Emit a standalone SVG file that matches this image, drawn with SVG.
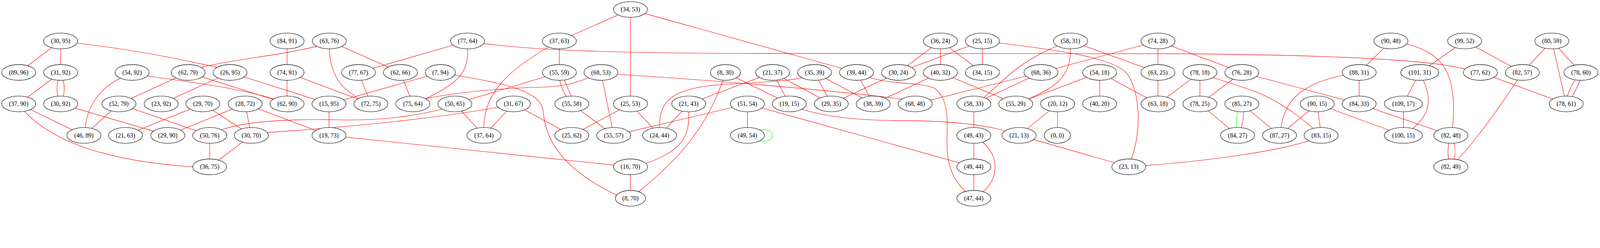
<svg xmlns="http://www.w3.org/2000/svg" width="4883" height="635" viewBox="0 0 4883 635" style="width:100vw;height:13.0043vw">
<style>
ellipse{fill:#fff;stroke:#000;stroke-width:1.33}
text{font-family:"Liberation Serif","Times New Roman",serif;font-size:18.67px;text-anchor:middle;fill:#000}
#edges path{fill:none;stroke:#ff0000;stroke-width:1.33}
#edges path.g{stroke:#00ff00}
#edges path.p{stroke:#a020f0}
</style>
<rect width="4883" height="635" fill="#fff"/>
<g id="edges">
<path d="M185,125L57,221"/>
<path d="M185,125L185,221"/>
<path d="M237,132C400,150 550,180 663,206"/>
<path d="M185,221L57,317"/>
<path d="M177,245C173,262 173,278 177,294"/>
<path d="M193,245C197,262 197,278 193,294"/>
<path d="M57,317L256,413"/>
<path d="M75,340C150,420 300,490 590,509"/>
<path d="M185,317L512,413"/>
<path d="M368,239C300,270 265,330 260,392"/>
<path d="M363,317L256,413"/>
<path d="M363,317L574,221"/>
<path d="M363,317L640,413"/>
<path d="M448,232C600,252 740,272 840,303"/>
<path d="M574,221L876,317"/>
<path d="M613,206C700,183 850,170 968,141"/>
<path d="M702,221L1004,317"/>
<path d="M702,221L492,317"/>
<path d="M619,317L383,413"/>
<path d="M619,317L767,413"/>
<path d="M748,317L512,413"/>
<path d="M748,317L767,413"/>
<path d="M748,317L1004,413"/>
<path d="M640,413L640,509"/>
<path d="M767,413L640,509"/>
<path d="M678,395C760,368 900,362 1050,366C1200,368 1300,345 1352,332"/>
<path d="M818,404Q1250,375 1522,327"/>
<path d="M1004,413L1924,509"/>
<path d="M1004,317L1004,413"/>
<path d="M1004,317L1344,221"/>
<path d="M876,125L876,221"/>
<path d="M876,221L876,317"/>
<path d="M876,221L1132,317"/>
<path d="M1005,149C1008,230 1040,270 1100,303"/>
<path d="M1005,125L1222,221"/>
<path d="M1094,221L1132,317"/>
<path d="M1094,221L1427,125"/>
<path d="M1427,149C1430,230 1390,255 1296,303"/>
<path d="M1477,133C1650,155 1900,162 2300,163L3600,164C4100,168 4380,185 4472,211"/>
<path d="M1388,229C1560,258 1650,280 1658,340C1664,430 1720,520 1892,600"/>
<path d="M1222,221L1260,317"/>
<path d="M1298,301C1400,280 1550,268 1650,266C1720,264 1760,252 1797,237"/>
<path d="M1388,317L1707,221"/>
<path d="M1388,317L1477,413"/>
<path d="M1567,317L1477,413"/>
<path d="M1673,144C1560,210 1475,280 1477,391"/>
<path d="M1567,317L1745,413"/>
<path d="M1924,29L1707,125"/>
<path d="M1924,29L1924,317"/>
<path d="M1924,29L2614,221"/>
<path d="M1707,125L1707,221"/>
<path d="M1708,244C1713,268 1720,283 1730,296"/>
<path d="M1722,244C1730,264 1738,280 1744,296"/>
<path d="M1834,221L1873,413"/>
<path d="M1887,227C2100,240 2500,270 2757,303"/>
<path d="M1745,317L1873,413"/>
<path d="M1924,317L1745,413"/>
<path d="M1924,317L2013,413"/>
<path d="M2281,317L1873,413"/>
<path d="M2013,391C2010,300 2060,270 2200,258C2330,250 2400,248 2449,237"/>
<path d="M1924,509L1924,605"/>
<path d="M2102,339C2105,420 2080,460 1970,499"/>
<path d="M2207,243C2160,380 2080,480 1946,587"/>
<path d="M2214,221L2409,317"/>
<path d="M2358,221L2102,317"/>
<path d="M2358,221L2409,317"/>
<path d="M2358,221L2537,317"/>
<path d="M2102,317L2013,413"/>
<path d="M2281,317L2281,413"/>
<path d="M2281,317L2972,509"/>
<path class="g" d="M2316,397C2340,392 2358,400 2358,413C2358,426 2340,434 2316,429"/>
<path d="M2486,221L2537,317"/>
<path d="M2486,221L2665,317"/>
<path d="M2614,221L2665,317"/>
<path d="M2653,236C2720,258 2800,250 2850,268C2900,300 2890,380 2890,440C2890,520 2920,560 2950,587"/>
<path d="M2742,221L2537,317"/>
<path d="M2870,125L2742,221"/>
<path d="M2998,125L2742,221"/>
<path d="M2870,221L2665,317"/>
<path d="M2445,333C2520,355 2600,367 2750,368C2900,368 3000,380 3072,400"/>
<path d="M2793,317L3177,221"/>
<path d="M2870,125L2870,221"/>
<path d="M2870,125L2998,221"/>
<path d="M2998,125L2998,221"/>
<path d="M3048,131C3250,155 3400,178 3440,225C3480,280 3485,400 3452,487"/>
<path d="M2870,221L3100,317"/>
<path d="M2972,317L2972,413"/>
<path d="M3227,140C3100,195 3070,240 3000,300"/>
<path d="M3177,221L2972,317"/>
<path d="M3534,125L3177,221"/>
<path d="M3267,147C3268,220 3240,260 3138,302"/>
<path d="M3356,221L3100,317"/>
<path class="p" d="M3228,317L3227,413"/>
<path d="M3228,317L3110,413"/>
<path d="M2972,413L2972,509"/>
<path d="M2998,433C3050,475 3050,545 2998,587"/>
<path d="M2972,509L2972,605"/>
<path d="M3110,413L3445,509"/>
<path d="M3267,125L3534,221"/>
<path d="M3534,125L3534,221"/>
<path d="M3534,125L3790,221"/>
<path d="M3356,221L3356,317"/>
<path d="M3356,221L3534,317"/>
<path d="M3534,221L3534,317"/>
<path d="M3662,221L3534,317"/>
<path d="M3495,505C3700,490 3900,460 3997,429"/>
<path d="M3662,221L3662,317"/>
<path d="M3700,236C3790,265 3830,278 3860,292C3920,320 3970,360 4010,393"/>
<path d="M3790,221L3662,317"/>
<path d="M3790,221L4148,317"/>
<path d="M3662,317L3777,413"/>
<path class="g" d="M3779,340C3774,358 3772,375 3773,391"/>
<path d="M3795,340C3796,360 3792,375 3788,391"/>
<path d="M3790,317L3905,413"/>
<path d="M4020,317L3905,413"/>
<path d="M4020,317L4032,413"/>
<path d="M4020,317L4283,413"/>
<path d="M4100,229C4000,250 3920,290 3910,391"/>
<path d="M4245,125L4148,221"/>
<path d="M4291,134C4400,160 4450,220 4433,391"/>
<path d="M4470,125L4333,221"/>
<path d="M4148,221L4148,317"/>
<path d="M4333,221L4283,317"/>
<path d="M4343,243C4370,300 4365,350 4311,392"/>
<path d="M4283,317L4283,413"/>
<path d="M4148,317L4428,413"/>
<path d="M4422,436C4418,455 4418,468 4421,486"/>
<path d="M4438,436C4442,455 4442,468 4438,486"/>
<path d="M4632,243C4580,320 4520,410 4446,490"/>
<path d="M4470,125L4646,221"/>
<path d="M4736,125L4646,221"/>
<path d="M4736,125L4780,317"/>
<path d="M4736,125L4825,221"/>
<path d="M4807,243C4797,260 4788,278 4782,296"/>
<path d="M4822,243C4815,265 4806,280 4797,296"/>
<path d="M4518,221L4780,317"/>
</g>
<g id="n34_53"><ellipse cx="1924" cy="29" rx="52" ry="24"/><text x="1924" y="35">(34, 53)</text></g>
<g id="n30_95"><ellipse cx="185" cy="125" rx="52" ry="24"/><text x="185" y="131">(30, 95)</text></g>
<g id="n84_91"><ellipse cx="876" cy="125" rx="52" ry="24"/><text x="876" y="131">(84, 91)</text></g>
<g id="n63_76"><ellipse cx="1005" cy="125" rx="52" ry="24"/><text x="1005" y="131">(63, 76)</text></g>
<g id="n77_64"><ellipse cx="1427" cy="125" rx="52" ry="24"/><text x="1427" y="131">(77, 64)</text></g>
<g id="n37_63"><ellipse cx="1707" cy="125" rx="52" ry="24"/><text x="1707" y="131">(37, 63)</text></g>
<g id="n36_24"><ellipse cx="2870" cy="125" rx="52" ry="24"/><text x="2870" y="131">(36, 24)</text></g>
<g id="n25_15"><ellipse cx="2998" cy="125" rx="52" ry="24"/><text x="2998" y="131">(25, 15)</text></g>
<g id="n58_31"><ellipse cx="3267" cy="125" rx="52" ry="24"/><text x="3267" y="131">(58, 31)</text></g>
<g id="n74_28"><ellipse cx="3534" cy="125" rx="52" ry="24"/><text x="3534" y="131">(74, 28)</text></g>
<g id="n90_48"><ellipse cx="4245" cy="125" rx="52" ry="24"/><text x="4245" y="131">(90, 48)</text></g>
<g id="n99_52"><ellipse cx="4470" cy="125" rx="52" ry="24"/><text x="4470" y="131">(99, 52)</text></g>
<g id="n80_59"><ellipse cx="4736" cy="125" rx="52" ry="24"/><text x="4736" y="131">(80, 59)</text></g>
<g id="n89_96"><ellipse cx="57" cy="221" rx="52" ry="24"/><text x="57" y="227">(89, 96)</text></g>
<g id="n31_92"><ellipse cx="185" cy="221" rx="52" ry="24"/><text x="185" y="227">(31, 92)</text></g>
<g id="n54_92"><ellipse cx="403" cy="221" rx="52" ry="24"/><text x="403" y="227">(54, 92)</text></g>
<g id="n62_79"><ellipse cx="574" cy="221" rx="52" ry="24"/><text x="574" y="227">(62, 79)</text></g>
<g id="n26_95"><ellipse cx="702" cy="221" rx="52" ry="24"/><text x="702" y="227">(26, 95)</text></g>
<g id="n74_91"><ellipse cx="876" cy="221" rx="52" ry="24"/><text x="876" y="227">(74, 91)</text></g>
<g id="n77_67"><ellipse cx="1094" cy="221" rx="52" ry="24"/><text x="1094" y="227">(77, 67)</text></g>
<g id="n62_66"><ellipse cx="1222" cy="221" rx="52" ry="24"/><text x="1222" y="227">(62, 66)</text></g>
<g id="n7_94"><ellipse cx="1344" cy="221" rx="46" ry="24"/><text x="1344" y="227">(7, 94)</text></g>
<g id="n55_59"><ellipse cx="1707" cy="221" rx="52" ry="24"/><text x="1707" y="227">(55, 59)</text></g>
<g id="n68_53"><ellipse cx="1834" cy="221" rx="52" ry="24"/><text x="1834" y="227">(68, 53)</text></g>
<g id="n8_30"><ellipse cx="2214" cy="221" rx="46" ry="24"/><text x="2214" y="227">(8, 30)</text></g>
<g id="n21_37"><ellipse cx="2358" cy="221" rx="52" ry="24"/><text x="2358" y="227">(21, 37)</text></g>
<g id="n35_39"><ellipse cx="2486" cy="221" rx="52" ry="24"/><text x="2486" y="227">(35, 39)</text></g>
<g id="n39_44"><ellipse cx="2614" cy="221" rx="52" ry="24"/><text x="2614" y="227">(39, 44)</text></g>
<g id="n30_24"><ellipse cx="2742" cy="221" rx="52" ry="24"/><text x="2742" y="227">(30, 24)</text></g>
<g id="n40_32"><ellipse cx="2870" cy="221" rx="52" ry="24"/><text x="2870" y="227">(40, 32)</text></g>
<g id="n34_15"><ellipse cx="2998" cy="221" rx="52" ry="24"/><text x="2998" y="227">(34, 15)</text></g>
<g id="n68_36"><ellipse cx="3177" cy="221" rx="52" ry="24"/><text x="3177" y="227">(68, 36)</text></g>
<g id="n54_18"><ellipse cx="3356" cy="221" rx="52" ry="24"/><text x="3356" y="227">(54, 18)</text></g>
<g id="n63_25"><ellipse cx="3534" cy="221" rx="52" ry="24"/><text x="3534" y="227">(63, 25)</text></g>
<g id="n78_18"><ellipse cx="3662" cy="221" rx="52" ry="24"/><text x="3662" y="227">(78, 18)</text></g>
<g id="n76_28"><ellipse cx="3790" cy="221" rx="52" ry="24"/><text x="3790" y="227">(76, 28)</text></g>
<g id="n88_31"><ellipse cx="4148" cy="221" rx="52" ry="24"/><text x="4148" y="227">(88, 31)</text></g>
<g id="n101_31"><ellipse cx="4333" cy="221" rx="58" ry="24"/><text x="4333" y="227">(101, 31)</text></g>
<g id="n77_62"><ellipse cx="4518" cy="221" rx="52" ry="24"/><text x="4518" y="227">(77, 62)</text></g>
<g id="n82_57"><ellipse cx="4646" cy="221" rx="52" ry="24"/><text x="4646" y="227">(82, 57)</text></g>
<g id="n78_60"><ellipse cx="4825" cy="221" rx="52" ry="24"/><text x="4825" y="227">(78, 60)</text></g>
<g id="n37_90"><ellipse cx="57" cy="317" rx="52" ry="24"/><text x="57" y="323">(37, 90)</text></g>
<g id="n30_92"><ellipse cx="185" cy="317" rx="52" ry="24"/><text x="185" y="323">(30, 92)</text></g>
<g id="n52_79"><ellipse cx="363" cy="317" rx="52" ry="24"/><text x="363" y="323">(52, 79)</text></g>
<g id="n23_92"><ellipse cx="492" cy="317" rx="52" ry="24"/><text x="492" y="323">(23, 92)</text></g>
<g id="n29_70"><ellipse cx="619" cy="317" rx="52" ry="24"/><text x="619" y="323">(29, 70)</text></g>
<g id="n28_72"><ellipse cx="748" cy="317" rx="52" ry="24"/><text x="748" y="323">(28, 72)</text></g>
<g id="n62_90"><ellipse cx="876" cy="317" rx="52" ry="24"/><text x="876" y="323">(62, 90)</text></g>
<g id="n15_95"><ellipse cx="1004" cy="317" rx="52" ry="24"/><text x="1004" y="323">(15, 95)</text></g>
<g id="n72_75"><ellipse cx="1132" cy="317" rx="52" ry="24"/><text x="1132" y="323">(72, 75)</text></g>
<g id="n75_64"><ellipse cx="1260" cy="317" rx="52" ry="24"/><text x="1260" y="323">(75, 64)</text></g>
<g id="n50_65"><ellipse cx="1388" cy="317" rx="52" ry="24"/><text x="1388" y="323">(50, 65)</text></g>
<g id="n31_67"><ellipse cx="1567" cy="317" rx="52" ry="24"/><text x="1567" y="323">(31, 67)</text></g>
<g id="n55_58"><ellipse cx="1745" cy="317" rx="52" ry="24"/><text x="1745" y="323">(55, 58)</text></g>
<g id="n25_53"><ellipse cx="1924" cy="317" rx="52" ry="24"/><text x="1924" y="323">(25, 53)</text></g>
<g id="n21_43"><ellipse cx="2102" cy="317" rx="52" ry="24"/><text x="2102" y="323">(21, 43)</text></g>
<g id="n51_54"><ellipse cx="2281" cy="317" rx="52" ry="24"/><text x="2281" y="323">(51, 54)</text></g>
<g id="n19_15"><ellipse cx="2409" cy="317" rx="52" ry="24"/><text x="2409" y="323">(19, 15)</text></g>
<g id="n29_35"><ellipse cx="2537" cy="317" rx="52" ry="24"/><text x="2537" y="323">(29, 35)</text></g>
<g id="n38_39"><ellipse cx="2665" cy="317" rx="52" ry="24"/><text x="2665" y="323">(38, 39)</text></g>
<g id="n68_48"><ellipse cx="2793" cy="317" rx="52" ry="24"/><text x="2793" y="323">(68, 48)</text></g>
<g id="n58_33"><ellipse cx="2972" cy="317" rx="52" ry="24"/><text x="2972" y="323">(58, 33)</text></g>
<g id="n55_29"><ellipse cx="3100" cy="317" rx="52" ry="24"/><text x="3100" y="323">(55, 29)</text></g>
<g id="n20_12"><ellipse cx="3228" cy="317" rx="52" ry="24"/><text x="3228" y="323">(20, 12)</text></g>
<g id="n40_20"><ellipse cx="3356" cy="317" rx="52" ry="24"/><text x="3356" y="323">(40, 20)</text></g>
<g id="n63_18"><ellipse cx="3534" cy="317" rx="52" ry="24"/><text x="3534" y="323">(63, 18)</text></g>
<g id="n78_25"><ellipse cx="3662" cy="317" rx="52" ry="24"/><text x="3662" y="323">(78, 25)</text></g>
<g id="n85_27"><ellipse cx="3790" cy="317" rx="52" ry="24"/><text x="3790" y="323">(85, 27)</text></g>
<g id="n90_15"><ellipse cx="4020" cy="317" rx="52" ry="24"/><text x="4020" y="323">(90, 15)</text></g>
<g id="n84_33"><ellipse cx="4148" cy="317" rx="52" ry="24"/><text x="4148" y="323">(84, 33)</text></g>
<g id="n109_17"><ellipse cx="4283" cy="317" rx="58" ry="24"/><text x="4283" y="323">(109, 17)</text></g>
<g id="n78_61"><ellipse cx="4780" cy="317" rx="52" ry="24"/><text x="4780" y="323">(78, 61)</text></g>
<g id="n46_89"><ellipse cx="256" cy="413" rx="52" ry="24"/><text x="256" y="419">(46, 89)</text></g>
<g id="n21_63"><ellipse cx="383" cy="413" rx="52" ry="24"/><text x="383" y="419">(21, 63)</text></g>
<g id="n29_90"><ellipse cx="512" cy="413" rx="52" ry="24"/><text x="512" y="419">(29, 90)</text></g>
<g id="n50_76"><ellipse cx="640" cy="413" rx="52" ry="24"/><text x="640" y="419">(50, 76)</text></g>
<g id="n30_70"><ellipse cx="767" cy="413" rx="52" ry="24"/><text x="767" y="419">(30, 70)</text></g>
<g id="n19_73"><ellipse cx="1004" cy="413" rx="52" ry="24"/><text x="1004" y="419">(19, 73)</text></g>
<g id="n37_64"><ellipse cx="1477" cy="413" rx="52" ry="24"/><text x="1477" y="419">(37, 64)</text></g>
<g id="n25_62"><ellipse cx="1745" cy="413" rx="52" ry="24"/><text x="1745" y="419">(25, 62)</text></g>
<g id="n55_57"><ellipse cx="1873" cy="413" rx="52" ry="24"/><text x="1873" y="419">(55, 57)</text></g>
<g id="n24_44"><ellipse cx="2013" cy="413" rx="52" ry="24"/><text x="2013" y="419">(24, 44)</text></g>
<g id="n49_54"><ellipse cx="2281" cy="413" rx="52" ry="24"/><text x="2281" y="419">(49, 54)</text></g>
<g id="n49_43"><ellipse cx="2972" cy="413" rx="52" ry="24"/><text x="2972" y="419">(49, 43)</text></g>
<g id="n21_13"><ellipse cx="3110" cy="413" rx="52" ry="24"/><text x="3110" y="419">(21, 13)</text></g>
<g id="n0_0"><ellipse cx="3227" cy="413" rx="40" ry="24"/><text x="3227" y="419">(0, 0)</text></g>
<g id="n84_27"><ellipse cx="3777" cy="413" rx="52" ry="24"/><text x="3777" y="419">(84, 27)</text></g>
<g id="n87_27"><ellipse cx="3905" cy="413" rx="52" ry="24"/><text x="3905" y="419">(87, 27)</text></g>
<g id="n83_15"><ellipse cx="4032" cy="413" rx="52" ry="24"/><text x="4032" y="419">(83, 15)</text></g>
<g id="n100_15"><ellipse cx="4283" cy="413" rx="58" ry="24"/><text x="4283" y="419">(100, 15)</text></g>
<g id="n82_48"><ellipse cx="4428" cy="413" rx="52" ry="24"/><text x="4428" y="419">(82, 48)</text></g>
<g id="n36_75"><ellipse cx="640" cy="509" rx="52" ry="24"/><text x="640" y="515">(36, 75)</text></g>
<g id="n16_70"><ellipse cx="1924" cy="509" rx="52" ry="24"/><text x="1924" y="515">(16, 70)</text></g>
<g id="n49_44"><ellipse cx="2972" cy="509" rx="52" ry="24"/><text x="2972" y="515">(49, 44)</text></g>
<g id="n23_13"><ellipse cx="3445" cy="509" rx="52" ry="24"/><text x="3445" y="515">(23, 13)</text></g>
<g id="n82_49"><ellipse cx="4428" cy="509" rx="52" ry="24"/><text x="4428" y="515">(82, 49)</text></g>
<g id="n8_70"><ellipse cx="1924" cy="605" rx="46" ry="24"/><text x="1924" y="611">(8, 70)</text></g>
<g id="n47_44"><ellipse cx="2972" cy="605" rx="52" ry="24"/><text x="2972" y="611">(47, 44)</text></g>
</svg>
